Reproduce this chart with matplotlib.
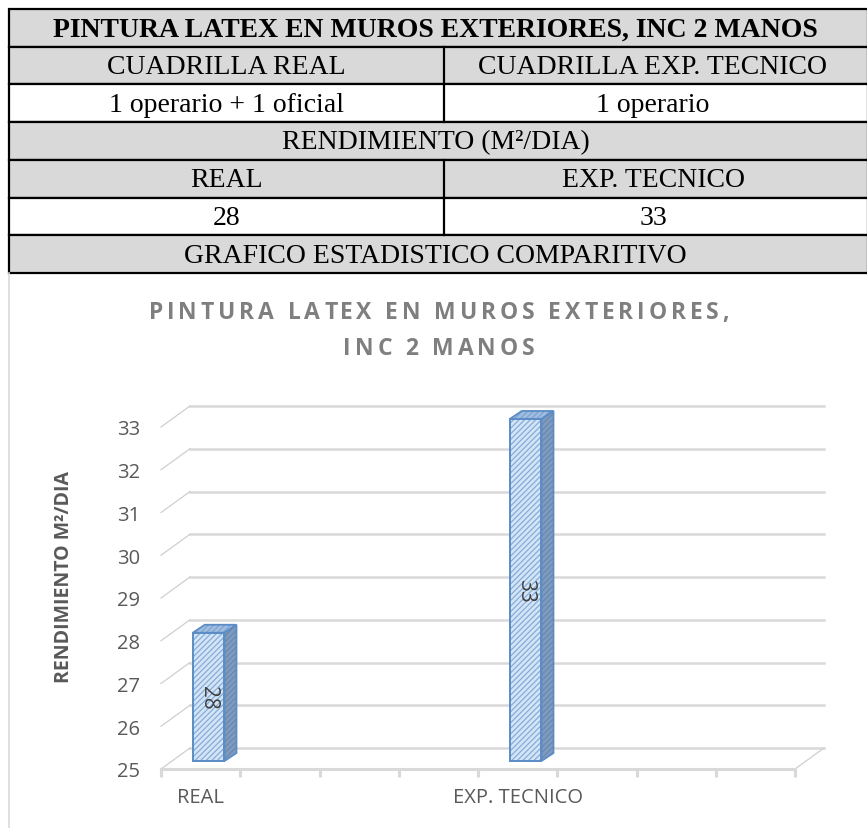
import matplotlib
matplotlib.use("Agg")
import matplotlib.pyplot as plt
from matplotlib.patches import Rectangle, Polygon
from matplotlib.lines import Line2D

# ---------------- data ----------------
table_title = "PINTURA LATEX EN MUROS EXTERIORES, INC 2 MANOS"
crew_header = ["CUADRILLA REAL", "CUADRILLA EXP. TECNICO"]
crew_values = ["1 operario + 1 oficial", "1 operario"]
yield_header = "RENDIMIENTO (M²/DIA)"
categories = ["REAL", "EXP. TECNICO"]
values = [28, 33]
chart_section = "GRAFICO ESTADISTICO COMPARITIVO"
chart_title = ["PINTURA LATEX EN MUROS EXTERIORES,", "INC 2 MANOS"]
y_label = "RENDIMIENTO M²/DIA"
y_ticks = [25, 26, 27, 28, 29, 30, 31, 32, 33]
category_slots = [0, 4]      # slot index of each category on the 8-slot axis
n_slots = 8

# ---------------- figure ----------------
W, H = 867, 829
DPI = 100
fig = plt.figure(figsize=(W / DPI, H / DPI), dpi=DPI)
fig.patch.set_facecolor("white")

# overlay in pixel units for the table block
bg = fig.add_axes([0, 0, 1, 1])
bg.set_xlim(0, W)
bg.set_ylim(H, 0)
bg.axis("off")

serif = "Liberation Serif"
gray_fill = "#d9d9d9"
left, right, mid = 9, 868, 444
top, rh = 10, 37.7
table_fs = 20
rows = [
    ("span", [table_title], gray_fill, True),
    ("split", crew_header, gray_fill, False),
    ("split", crew_values, "white", False),
    ("span", [yield_header], gray_fill, False),
    ("split", categories, gray_fill, False),
    ("split", [str(v) for v in values], "white", False),
    ("span", [chart_section], gray_fill, False),
]
for i, (kind, texts, fill, bold) in enumerate(rows):
    y0 = top + i * rh
    bg.add_patch(Rectangle((left, y0), right - left, rh, facecolor=fill,
                           edgecolor="black", linewidth=1.6, zorder=1))
    yc = y0 + rh / 2 + 1
    if kind == "span":
        bg.text((left + right) / 2 - 3, yc, texts[0], ha="center", va="center",
                fontsize=table_fs, family=serif,
                fontweight="bold" if bold else "normal", color="black")
    else:
        bg.plot([mid, mid], [y0, y0 + rh], color="black", lw=1.6, zorder=2)
        bg.text((left + mid) / 2, yc, texts[0], ha="center", va="center",
                fontsize=table_fs, family=serif, color="black")
        bg.text((mid + right) / 2 - 3, yc, texts[1], ha="center", va="center",
                fontsize=table_fs, family=serif, color="black")

# chart area left border
bg.plot([left, left], [top + 7 * rh, H], color="#d9d9d9", lw=1.2)

# ---------------- chart title with letter spacing ----------------
renderer = fig.canvas.get_renderer()
title_color = "#7f7f7f"
sans = "Open Sans"


def tracked_text(cx, cy, s, size, tracking):
    ref = bg.text(0, 0, "|", fontsize=size, family=sans, fontweight="bold")
    ref_w = ref.get_window_extent(renderer).width
    ref.remove()

    def width(sub):
        t = bg.text(0, 0, sub + "|", fontsize=size, family=sans, fontweight="bold")
        w = t.get_window_extent(renderer).width - ref_w
        t.remove()
        return w

    offsets = [width(s[:k]) + k * tracking for k in range(len(s))]
    total = width(s) + (len(s) - 1) * tracking
    x0 = cx - total / 2
    for k, ch in enumerate(s):
        if ch != " ":
            bg.text(x0 + offsets[k], cy, ch, fontsize=size, family=sans,
                    fontweight="bold", color=title_color, ha="left", va="center")


tracked_text(439, 313, chart_title[0], 16.5, 3.9)
tracked_text(439, 349, chart_title[1], 16.5, 3.9)

# ---------------- chart axes (front plane) ----------------
px_left, px_right = 161, 795
px_base, px_top = 770, 428
ax = fig.add_axes([px_left / W, (H - px_base) / H,
                   (px_right - px_left) / W, (px_base - px_top) / H])
ax.set_xlim(0, n_slots)
ax.set_ylim(y_ticks[0], y_ticks[-1])
ax.patch.set_alpha(0)
for side in ("top", "right", "left"):
    ax.spines[side].set_visible(False)
ax.spines["bottom"].set_color("#d9d9d9")
ax.spines["bottom"].set_linewidth(2.2)
ax.spines["bottom"].set_zorder(4)

# pixel -> data conversion for the perspective offsets
sx = (px_right - px_left) / n_slots
sy = (px_base - px_top) / (y_ticks[-1] - y_ticks[0])
back_dx, back_dy = 29 / sx, 21 / sy
front_dx, front_dy = 8 / sx, 8 / sy
depth_dx, depth_dy = 12 / sx, 8 / sy

grid_color = "#d9d9d9"
for v in y_ticks:
    ax.add_line(Line2D([back_dx, n_slots + back_dx], [v + back_dy, v + back_dy],
                       color=grid_color, lw=1.8, clip_on=False, zorder=1))
    ax.add_line(Line2D([0, back_dx], [v, v + back_dy], color="#cfcfcf",
                       lw=0.9, clip_on=False, zorder=1))
ax.add_line(Line2D([n_slots, n_slots + back_dx], [y_ticks[0], y_ticks[0] + back_dy],
                   color="#cfcfcf", lw=0.9, clip_on=False, zorder=1))

# axis ticks and labels
ax.set_yticks(y_ticks)
ax.set_yticklabels([str(v) for v in y_ticks], fontsize=14.5, family=sans,
                   color="#595959")
ax.tick_params(axis="y", length=0, pad=15)
ax.set_xticks(range(n_slots + 1))
ax.set_xticklabels([""] * (n_slots + 1))
ax.tick_params(axis="x", which="major", length=6, width=2.2, color="#d9d9d9",
               direction="out")
ax.set_xticks([s + 0.5 for s in category_slots], categories, minor=True)
ax.tick_params(axis="x", which="minor", length=0, pad=13, labelsize=14.5,
               labelcolor="#595959")
for lab in ax.get_xticklabels(minor=True):
    lab.set_family(sans)
ax.set_ylabel(y_label, fontsize=14, family=sans, fontweight="bold",
              color="#595959")
ax.yaxis.set_label_coords(-0.138, (px_base - 577) / (px_base - px_top))

# ---------------- 3D-looking bars ----------------
bar_w = 0.40
face_fill = "#d3e5f6"
face_hatch = "#86acd8"
edge_col = "#5b8cc6"
side_fill = "#7f9cc0"
top_fill = "#9fbde0"
plt.rcParams["hatch.linewidth"] = 0.9

base = y_ticks[0]
for slot, v in zip(category_slots, values):
    xc = slot + 0.5 + front_dx
    x0, x1 = xc - bar_w / 2, xc + bar_w / 2
    y0, y1 = base + front_dy, v + front_dy
    # right side face
    side = [(x1, y0), (x1 + depth_dx, y0 + depth_dy),
            (x1 + depth_dx, y1 + depth_dy), (x1, y1)]
    ax.add_patch(Polygon(side, closed=True, facecolor=side_fill, hatch="//////",
                         edgecolor="#6a87ad", lw=0, zorder=5, clip_on=False))
    ax.add_patch(Polygon(side, closed=True, fill=False, edgecolor=edge_col,
                         lw=1.3, zorder=6, clip_on=False))
    # top face
    topf = [(x0, y1), (x1, y1), (x1 + depth_dx, y1 + depth_dy),
            (x0 + depth_dx, y1 + depth_dy)]
    ax.add_patch(Polygon(topf, closed=True, facecolor=top_fill, hatch="//////",
                         edgecolor="#7fa3cf", lw=0, zorder=5, clip_on=False))
    ax.add_patch(Polygon(topf, closed=True, fill=False, edgecolor=edge_col,
                         lw=1.3, zorder=6, clip_on=False))
    # front face
    ax.bar(xc, v - base, bottom=y0, width=bar_w, color=face_fill,
           hatch="//////", edgecolor=face_hatch, linewidth=0, zorder=7,
           clip_on=False)
    ax.bar(xc, v - base, bottom=y0, width=bar_w, fill=False,
           edgecolor=edge_col, linewidth=1.4, zorder=8, clip_on=False)
    ax.text(xc, (y0 + y1) / 2, str(v), rotation=-90, ha="center", va="center",
            fontsize=15, family=sans, color="#404040", zorder=9)

fig.savefig("out.png", dpi=DPI, facecolor="white")
